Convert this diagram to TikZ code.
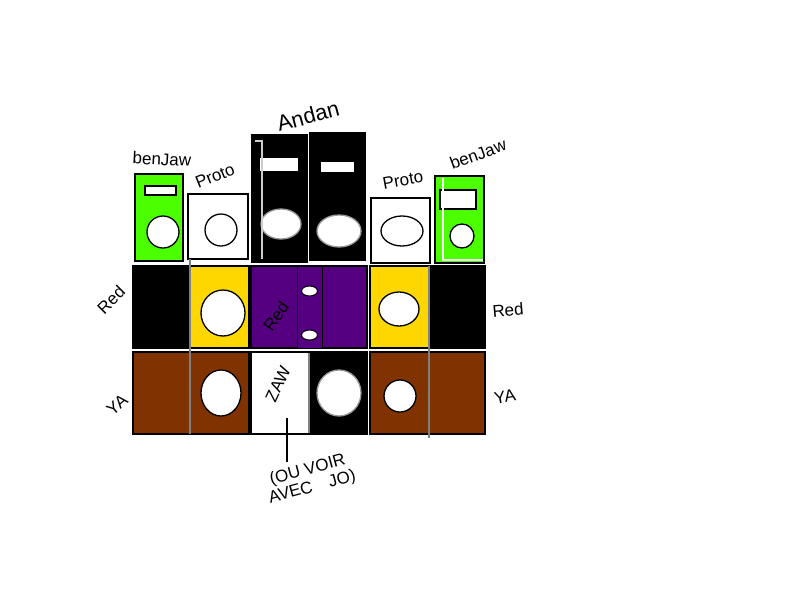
\documentclass[tikz,border=0pt]{standalone}
\usepackage{fontspec}
\setmainfont{Liberation Sans}
\usetikzlibrary{positioning,shapes.geometric}
\definecolor{gazon}{RGB}{76,255,0}
\definecolor{jaune}{RGB}{255,215,0}
\definecolor{violet}{RGB}{85,0,128}
\definecolor{brun}{RGB}{128,51,0}

\begin{document}
\begin{tikzpicture}[x=1pt,y=-1pt,
  box/.style={rectangle,draw=black,line width=1.5pt,inner sep=0pt},
  hole/.style={ellipse,draw=black,line width=1.3pt,fill=white,inner sep=0pt},
  grey/.style={draw=black!50,line width=1.2pt},
  hand/.style={font=\fontsize{17}{18}\selectfont,inner sep=0.5pt}]
\useasboundingbox (0,0) rectangle (800,600);
% haut
\node at (159,217.5)[box,fill=gazon,minimum width=48pt,minimum height=87pt](bj1){};
\node at (160.5,190.5)[box,fill=white,minimum width=31pt,minimum height=9pt](bj1r){};
\node at (163,232)[hole,minimum width=32pt,minimum height=32pt](bj1h){};
\node at (218,226.5)[box,fill=white,minimum width=60pt,minimum height=65pt](pr1){};
\node at (221,230)[hole,minimum width=32pt,minimum height=32pt](pr1h){};
\node at (279.5,198.5)[box,fill=black,minimum width=55pt,minimum height=127pt](an1){};
\node at (279,164.5)[box,fill=white,minimum width=40pt,minimum height=15pt](an1r){};
\node at (281,224)[hole,draw=black!40,minimum width=40pt,minimum height=30pt](an1h){};
\node at (337.5,196.5)[box,fill=black,minimum width=55pt,minimum height=127pt](an2){};
\node at (337.5,167)[box,fill=white,minimum width=35pt,minimum height=12pt](an2r){};
\node at (339,231)[hole,draw=black!40,minimum width=44pt,minimum height=32pt](an2h){};
\node at (400.5,230.5)[box,fill=white,minimum width=59pt,minimum height=65pt](pr2){};
\node at (402,231)[hole,minimum width=42pt,minimum height=30pt](pr2h){};
\node at (459.5,219.5)[box,fill=gazon,minimum width=49pt,minimum height=87pt](bj2){};
\node at (458,199.5)[box,fill=white,minimum width=36pt,minimum height=19pt](bj2r){};
\node at (462,236)[hole,minimum width=24pt,minimum height=24pt](bj2h){};
\draw[white,line width=1.5pt] (443,178) -- (443,260) -- (483,260);
\draw[white!80!black,line width=1.5pt] (255,141) -- (262,141) -- (262,259);
% milieu
\node at (161,307)[box,fill=black,minimum width=56pt,minimum height=82pt](n1){};
\node at (219,307)[box,fill=jaune,minimum width=60pt,minimum height=82pt](j1){};
\node at (223,313)[hole,minimum width=44pt,minimum height=46pt](j1h){};
\node at (309,307)[box,fill=violet,minimum width=116pt,minimum height=82pt](vi){};
\node at (309.5,307)[box,fill=violet,line width=1pt,minimum width=25pt,minimum height=82pt](vic){};
\node at (309.5,291)[hole,line width=1pt,minimum width=16pt,minimum height=10pt](vih1){};
\node at (309.5,335)[hole,line width=1pt,minimum width=16pt,minimum height=10pt](vih2){};
\node at (399.5,307)[box,fill=jaune,minimum width=59pt,minimum height=82pt](j2){};
\node at (399,309)[hole,minimum width=40pt,minimum height=34pt](j2h){};
\node at (457,307)[box,fill=black,minimum width=56pt,minimum height=82pt](n2){};
% bas
\node at (191,393)[box,fill=brun,minimum width=116pt,minimum height=82pt](b1){};
\node at (221,393)[hole,minimum width=40pt,minimum height=46pt](b1h){};
\node at (280,393)[box,fill=white,minimum width=58pt,minimum height=82pt](za){};
\node at (338,393)[box,fill=black,minimum width=58pt,minimum height=82pt](zn){};
\node at (339,393)[hole,draw=black!40,minimum width=44pt,minimum height=46pt](znh){};
\node at (427.5,393)[box,fill=brun,minimum width=115pt,minimum height=82pt](b2){};
\node at (400,396)[hole,minimum width=32pt,minimum height=32pt](b2h){};
\draw[grey] (190,259) -- (190,434);
\draw[grey] (309,353) -- (309,433);
\draw[grey] (429,266) -- (429,438);
% textes
\node at (162,159)[hand,rotate=-3](t1){benJaw};
\node at (215,176)[hand,rotate=22](t2){Proto};
\node at (308,116)[hand,font=\fontsize{22}{24}\selectfont,rotate=15](t3){Andan};
\node at (403,180)[hand,rotate=10](t4){Proto};
\node at (478,154)[hand,rotate=20](t5){benJaw};
\node at (111,300)[hand,rotate=45](t6){Red};
\node at (276,316)[hand,rotate=55](t7){Red};
\node at (508,310)[hand,rotate=5](t8){Red};
\node at (117,405)[hand,rotate=40](t9){YA};
\node at (505,397)[hand,rotate=10](t10){YA};
\node at (278,384)[hand,rotate=65](t11){ZAW};
\node at (310,479)[hand,align=center,rotate=15](note){(OU VOIR\\AVEC\quad JO)};
\coordinate (zt) at (287,418);
\draw[line width=1.2pt] (zt) -- (zt |- note.north);
\end{tikzpicture}
\end{document}
